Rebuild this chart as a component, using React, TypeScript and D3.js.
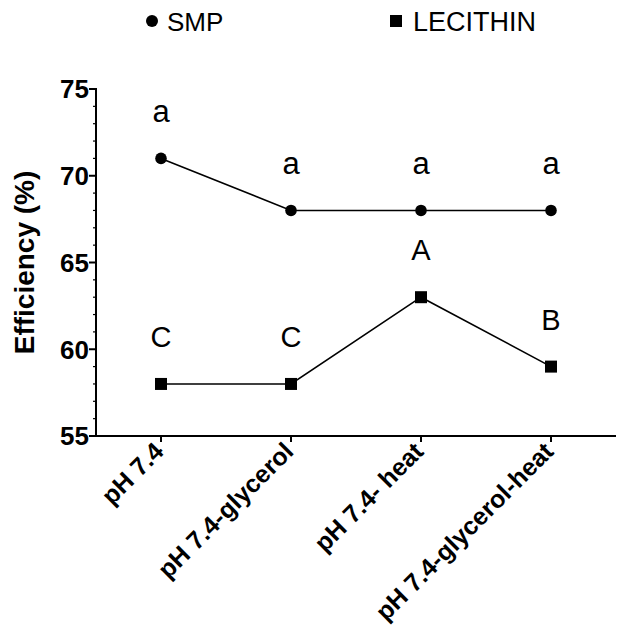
import * as d3 from "d3";

const categories = ["pH 7.4", "pH 7.4-glycerol", "pH 7.4- heat", "pH 7.4-glycerol-heat"];
const smpValues = [71, 68, 68, 68];
const lecithinValues = [58, 58, 63, 59];
const smpLetters = ["a", "a", "a", "a"];
const lecithinLetters = ["C", "C", "A", "B"];
const yTicks = [55, 60, 65, 70, 75];

const W = 617;
const H = 637;
const FONT = "'Liberation Sans', Arial, sans-serif";

export default function App() {
  const x = d3.scalePoint<string>().domain(categories).range([96, 616]).padding(0.5);
  const y = d3.scaleLinear().domain([55, 75]).range([436, 89]);
  const minor = d3.range(55, 76, 1);

  const line = d3
    .line<number>()
    .x((_, i) => x(categories[i]) as number)
    .y((d) => y(d));

  const sq = 12;

  return (
    <div style={{ position: "absolute", left: 0, top: 0 }}>
      <svg width={W} height={H} style={{ display: "block", background: "#fff" }} fontFamily={FONT}>
        {/* legend */}
        <circle cx={152} cy={21} r={6} fill="#000" />
        <text x={167} y={31} fontSize={26}>SMP</text>
        <rect x={390} y={15} width={12} height={12} fill="#000" />
        <text x={413} y={31} fontSize={27}>LECITHIN</text>

        {/* y axis */}
        <line x1={96} x2={96} y1={y(75) - 1} y2={y(55) + 1} stroke="#000" strokeWidth={2} />
        {minor.map((v) => (
          <line key={v} x1={96 - (v % 5 === 0 ? 7 : 3)} x2={96} y1={y(v)} y2={y(v)} stroke="#000" strokeWidth={v % 5 === 0 ? 2 : 1.2} />
        ))}
        {yTicks.map((v) => (
          <text key={v} x={89} y={y(v)} dy="0.36em" textAnchor="end" fontSize={26} fontWeight="bold">
            {v}
          </text>
        ))}
        <text
          transform={`translate(34,${(y(55) + y(75)) / 2}) rotate(-90)`}
          textAnchor="middle"
          fontSize={28}
          fontWeight="bold"
        >
          Efficiency (%)
        </text>

        {/* x axis */}
        <line x1={95} x2={616} y1={y(55)} y2={y(55)} stroke="#000" strokeWidth={2} />
        {categories.map((c) => (
          <g key={c}>
            <line x1={x(c)} x2={x(c)} y1={y(55)} y2={y(55) + 6} stroke="#000" strokeWidth={2} />
            <text
              transform={`translate(${(x(c) as number) + 4},${y(55) + 17}) rotate(-45)`}
              textAnchor="end"
              fontSize={25}
              fontWeight="bold"
            >
              {c}
            </text>
          </g>
        ))}

        {/* series */}
        <path d={line(smpValues) as string} fill="none" stroke="#000" strokeWidth={1.6} />
        <path d={line(lecithinValues) as string} fill="none" stroke="#000" strokeWidth={1.6} />
        {smpValues.map((v, i) => (
          <circle key={i} cx={x(categories[i])} cy={y(v)} r={5.8} fill="#000" />
        ))}
        {lecithinValues.map((v, i) => (
          <rect key={i} x={(x(categories[i]) as number) - sq / 2} y={y(v) - sq / 2} width={sq} height={sq} fill="#000" />
        ))}

        {/* significance letters */}
        {smpValues.map((v, i) => (
          <text key={i} x={x(categories[i])} y={y(v) - 36} textAnchor="middle" fontSize={31}>
            {smpLetters[i]}
          </text>
        ))}
        {lecithinValues.map((v, i) => (
          <text key={i} x={x(categories[i])} y={y(v) - 37} textAnchor="middle" fontSize={29}>
            {lecithinLetters[i]}
          </text>
        ))}
      </svg>
    </div>
  );
}
